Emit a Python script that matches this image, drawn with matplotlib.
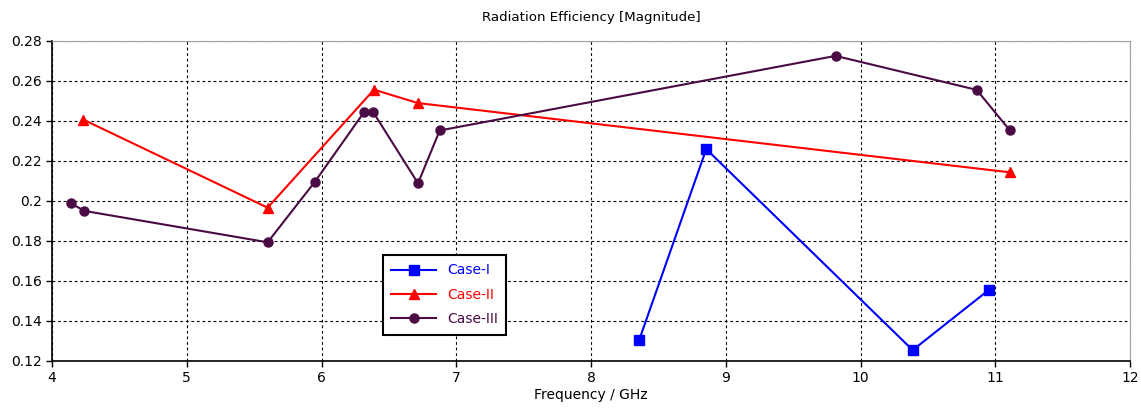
import matplotlib
matplotlib.use('Agg')
import matplotlib.pyplot as plt
from matplotlib.ticker import FormatStrFormatter, MultipleLocator

# values
case1_f = [8.357, 8.855, 10.387, 10.95]
case1_eff = [0.1303, 0.2258, 0.1253, 0.1553]

case2_f = [4.233, 5.60, 6.389, 6.716, 11.106]
case2_eff = [0.2405, 0.1965, 0.2555, 0.2488, 0.2142]

case3_f = [4.139, 4.240, 5.60, 5.950, 6.314, 6.384, 6.716, 6.877,
           9.815, 10.862, 11.106]
case3_eff = [0.1987, 0.1949, 0.1792, 0.2094, 0.2441, 0.2442, 0.2087,
             0.2351, 0.2724, 0.2554, 0.2353]

plt.rcParams['font.family'] = ['DejaVu Sans']
plt.rcParams['font.size'] = 9

fig = plt.figure(figsize=(11.41, 4.15), dpi=100)
ax = fig.add_axes([0.0456, 0.1308, 0.9448, 0.7712])

purple = '#4a0b45'
ax.plot(case1_f, case1_eff, color='#0000ff', marker='s', markersize=6.5,
        linewidth=1.5, label='Case-I')
ax.plot(case2_f, case2_eff, color='#ff0000', marker='^', markersize=7.5,
        linewidth=1.5, label='Case-II')
ax.plot(case3_f, case3_eff, color=purple, marker='o', markersize=6.5,
        linewidth=1.5, label='Case-III')

ax.set_xlim(4, 12)
ax.set_ylim(0.12, 0.28)
ax.xaxis.set_major_locator(MultipleLocator(1))
ax.yaxis.set_major_locator(MultipleLocator(0.02))
ax.yaxis.set_major_formatter(FormatStrFormatter('%g'))
ax.grid(True, color='black', linestyle=(0, (2.5, 2.5)), linewidth=0.8)
ax.tick_params(direction='out', length=4, width=1, labelsize=10)

for side in ['top', 'right']:
    ax.spines[side].set_color('#a0a0a0')
for side in ['left', 'bottom']:
    ax.spines[side].set_color('black')
    ax.spines[side].set_linewidth(1.2)

ax.set_title('Radiation Efficiency [Magnitude]', fontsize=9.6, pad=14)
ax.set_xlabel('Frequency / GHz', fontsize=10, labelpad=2)

leg = ax.legend(loc='upper left', bbox_to_anchor=(0.307, 0.33),
                borderaxespad=0, fancybox=False, framealpha=1,
                edgecolor='black', fontsize=10, handlelength=3.2,
                borderpad=0.6, labelspacing=0.75)
leg.get_frame().set_linewidth(1.5)
for text, line in zip(leg.get_texts(), leg.get_lines()):
    text.set_color(line.get_color())

fig.savefig('out.png', dpi=100)
